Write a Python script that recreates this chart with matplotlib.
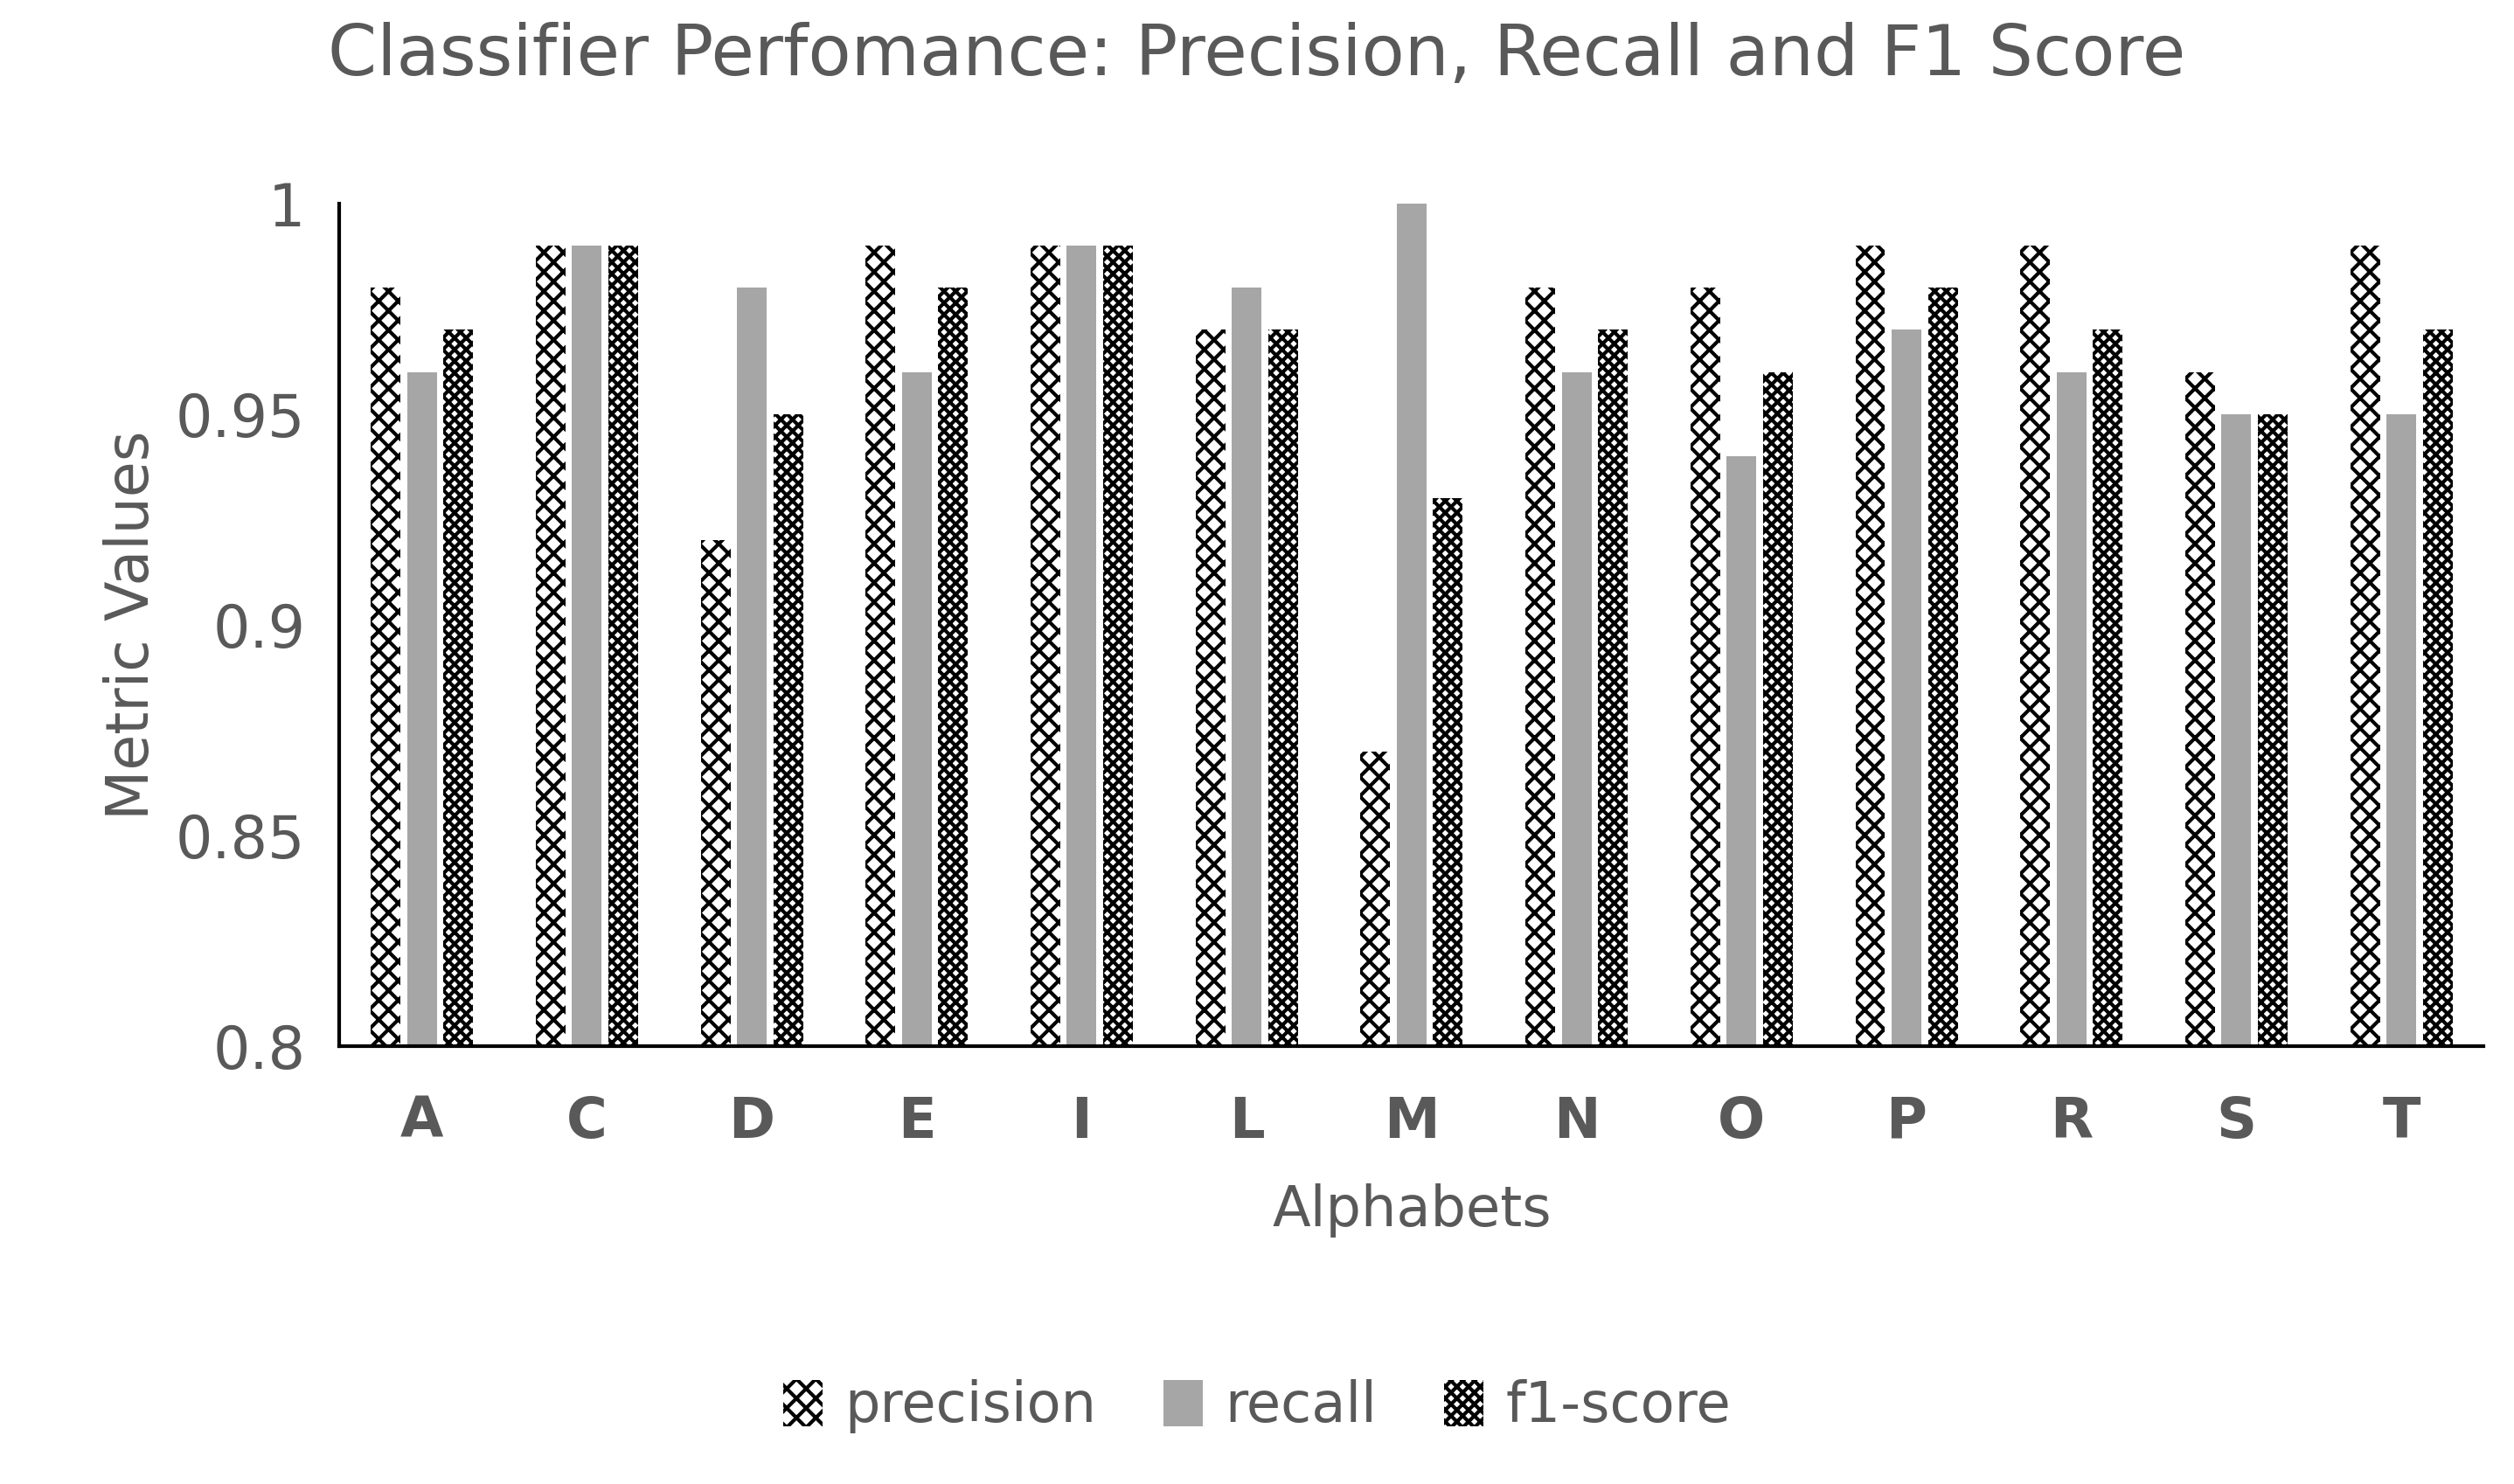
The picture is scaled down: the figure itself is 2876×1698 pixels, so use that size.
import numpy as np
from matplotlib import pyplot as plt

letters = ['A', 'C', 'D', 'E', 'I', 'L', 'M', 'N', 'O', 'P', 'R', 'S', 'T']
precision = [0.98, 0.99, 0.92, 0.99, 0.99, 0.97, 0.87, 0.98, 0.98, 0.99, 0.99, 0.96, 0.99]
recall = [0.96, 0.99, 0.98, 0.96, 0.99, 0.98, 1.00, 0.96, 0.94, 0.97, 0.96, 0.95, 0.95]
f1 = [0.97, 0.99, 0.95, 0.98, 0.99, 0.97, 0.93, 0.97, 0.96, 0.98, 0.97, 0.95, 0.97]

TXT = '#595959'
plt.rcParams['hatch.linewidth'] = 1.5
fig = plt.figure(figsize=(14.38, 8.49), dpi=200)
ax = fig.add_axes([0.135, 0.295, 0.853, 0.568])

x = np.arange(len(letters))
w = 0.18
ax.bar(x - 0.22, precision, w, color='white', edgecolor='black', hatch='xxx', linewidth=0, label='precision')
ax.bar(x, recall, w, color='#a6a6a6', linewidth=0, label='recall')
ax.bar(x + 0.22, f1, w, color='white', edgecolor='black', hatch='xxxxx', linewidth=0, label='f1-score')

ax.set_ylim(0.8, 1.0)
ax.set_xlim(-0.5, len(letters) - 0.5)
ax.set_yticks([0.8, 0.85, 0.9, 0.95, 1.0])
ax.set_yticklabels(['0.8', '0.85', '0.9', '0.95', '1'])
ax.set_xticks(x)
ax.set_xticklabels(letters, fontweight='bold', fontsize=23, color=TXT)
ax.tick_params(axis='y', labelsize=24, labelcolor=TXT, length=0, pad=14)
ax.tick_params(axis='x', length=0, pad=20)
for s in ['top', 'right']:
    ax.spines[s].set_visible(False)
for s in ['left', 'bottom']:
    ax.spines[s].set_linewidth(1.5)

ax.set_xlabel('Alphabets', fontsize=23, color=TXT, labelpad=14)
ax.set_ylabel('Metric Values', fontsize=24, color=TXT, labelpad=6)
fig.suptitle('Classifier Perfomance: Precision, Recall and F1 Score', fontsize=29, color=TXT, y=0.985)
fig.legend(loc='lower center', bbox_to_anchor=(0.5, 0.0), ncol=3, frameon=False,
           fontsize=23, labelcolor=TXT, handlelength=0.7, handleheight=0.9, columnspacing=1.2, handletextpad=0.4)
plt.savefig('out.png')
